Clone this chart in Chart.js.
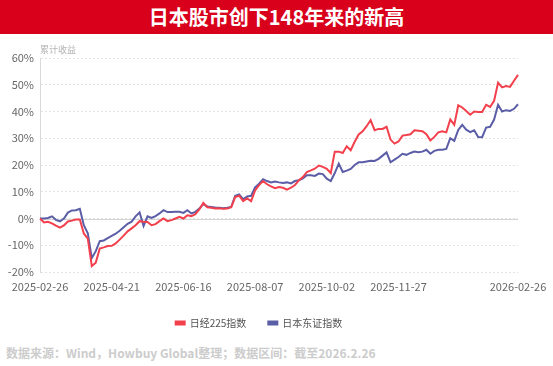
<!DOCTYPE html>
<html>
<head>
<meta charset="utf-8">
<script src="https://cdn.jsdelivr.net/npm/chart.js@4.4.1/dist/chart.umd.min.js"></script>
<style>
  body { margin: 0; width: 553px; height: 366px; background: #fff; position: relative; overflow: hidden; font-family: "Noto Sans CJK SC", "Noto Sans", sans-serif; }
  .title { position: absolute; left: 0; top: 0; width: 553px; height: 34px; background: #d9001b; color: #fff; font-size: 20px; font-weight: bold; line-height: 34px; text-align: center; }
  .wrap { position: absolute; left: 0; top: 36px; width: 553px; height: 302px; }
  .foot { position: absolute; left: 6px; top: 344px; font-size: 12px; font-weight: bold; color: #cccccc; white-space: nowrap; }
</style>
</head>
<body>
<div class="title">日本股市创下148年来的新高</div>
<div class="wrap"><canvas id="c"></canvas></div>
<div class="foot">数据来源：Wind，Howbuy Global整理；数据区间：截至2026.2.26</div>
<script>
// cumulative return (%), one value every ~2 trading days
const nikkei = [
  0, -1.5, -1.2, -1.8, -2.7, -3.4, -2.6, -1.1, -0.8, -0.4,
  -0.4, -5.6, -7.5, -17.8, -16.5, -11.2, -10.8, -10.3, -10.2, -9.3,
  -7.9, -6.4, -4.8, -3.7, -2.5, -1.0, -1.2, -1.3, -2.5, -2.1,
  -1.0, 0, -1.0, -0.6, 0, 0.6, 0, 1.2, 0.9, 1.6,
  3.4, 5.8, 4.2, 4.0, 3.7, 3.8, 3.6, 3.7, 4.2, 8.0,
  8.5, 6.5, 7.5, 6.5, 10.5, 12.5, 14.0, 12.8, 12.0, 11.3,
  11.8, 11.5, 10.8, 11.5, 12.5, 14.3, 15.5, 17.4, 18.0, 18.6,
  19.8, 19.3, 18.6, 17.0, 25.0, 25.0, 24.5, 27.0, 25.5, 28.7,
  31.4, 32.6, 34.5, 36.8, 33.0, 33.5, 33.5, 34.3, 29.5, 28.0,
  28.8, 31.0, 31.2, 31.5, 33.0, 32.8, 32.6, 31.5, 29.2, 30.5,
  32.2, 32.6, 32.2, 37.0, 35.0, 42.3, 41.5, 40.2, 38.8, 40.0,
  39.8, 39.8, 42.5, 41.7, 44.0, 50.8, 49.0, 49.5, 49.2, 51.5,
  53.7
];
const topix = [
  0, 0, 0.2, 0.8, -0.5, -1.1, 0, 2.2, 3.0, 3.1,
  3.6, -2.5, -5.5, -14.8, -12.2, -8.5, -8.2, -7.3, -6.5, -5.7,
  -4.6, -3.3, -2.0, -1.2, 0.8, 2.3, -2.8, 0.8, 0.2, 0.9,
  1.9, 3.1, 2.4, 2.4, 2.5, 2.5, 2.1, 3.1, 1.9, 2.5,
  3.7, 5.4, 4.5, 4.3, 4.1, 4.0, 3.8, 4.0, 4.3, 8.5,
  9.0, 7.2, 8.2, 8.5, 11.6, 13.0, 14.7, 14.0, 13.5, 13.8,
  13.5, 13.3, 13.5, 13.1, 14.0, 14.3, 15.0, 16.2, 16.2, 15.9,
  16.8, 16.6, 14.9, 14.0, 17.0, 20.5, 17.4, 17.9, 18.5, 20.0,
  21.0, 21.0, 21.3, 21.6, 21.5, 22.3, 23.5, 24.7, 21.0, 22.0,
  23.0, 24.2, 23.8, 24.5, 25.0, 24.8, 25.0, 25.7, 24.2, 25.3,
  25.7, 25.7, 26.0, 30.0, 29.0, 33.1, 35.0, 33.2, 32.3, 33.0,
  30.5, 30.4, 34.0, 34.3, 37.0, 42.5, 40.0, 40.5, 40.2, 41.0,
  42.7
];
const tickDates = ['2025-02-26', '2025-04-21', '2025-06-16', '2025-08-07', '2025-10-02', '2025-11-27', '2026-02-26'];
const tickAt = [0, 18, 36, 54, 72, 90, 120];
const seriesNames = ['日经225指数', '日本东证指数'];

const labels = nikkei.map((_, i) => i);

// solid zero line + small y-axis caption
const extras = {
  id: 'extras',
  beforeDatasetsDraw(chart) {
    const { ctx, chartArea, scales } = chart;
    const y0 = Math.round(scales.y.getPixelForValue(0)) + 0.5;
    ctx.save();
    ctx.strokeStyle = '#d4d4d4';
    ctx.lineWidth = 1;
    ctx.beginPath();
    ctx.moveTo(chartArea.left, y0);
    ctx.lineTo(chartArea.right, y0);
    ctx.stroke();
    ctx.restore();
  },
  afterDraw(chart) {
    const { ctx, chartArea } = chart;
    ctx.save();
    ctx.fillStyle = '#b3b3b3';
    ctx.font = '9px "Noto Sans CJK SC"';
    ctx.textBaseline = 'bottom';
    ctx.fillText('累计收益', chartArea.left, chartArea.top - 4);
    ctx.restore();
  }
};

new Chart(document.getElementById('c'), {
  type: 'line',
  data: {
    labels: labels,
    datasets: [
      { label: seriesNames[0], data: nikkei, borderColor: '#f2404c', backgroundColor: '#f2404c', borderWidth: 2, pointRadius: 0, tension: 0 },
      { label: seriesNames[1], data: topix, borderColor: '#5b5ea6', backgroundColor: '#5b5ea6', borderWidth: 2, pointRadius: 0, tension: 0 }
    ]
  },
  options: {
    responsive: true,
    maintainAspectRatio: false,
    animation: false,
    layout: { padding: { top: 22, right: 35, left: 0, bottom: 0 } },
    plugins: {
      legend: {
        position: 'bottom',
        labels: { boxWidth: 9, boxHeight: 3, padding: 22, color: '#555', font: { size: 10, family: 'Noto Sans CJK SC' } }
      },
      tooltip: { enabled: false }
    },
    scales: {
      x: {
        grid: { display: false },
        border: { display: false },
        afterFit(s) { s.height = 24; },
        ticks: {
          autoSkip: false,
          maxRotation: 0,
          color: '#666',
          font: { size: 11, family: 'Noto Sans CJK SC' },
          padding: 0,
          callback(v, i) {
            const k = tickAt.indexOf(i);
            return k >= 0 ? tickDates[k] : '';
          }
        }
      },
      y: {
        min: -20,
        max: 60,
        afterFit(s) { s.width = 40; },
        grid: { color: '#e3e3e3', drawTicks: false },
        border: { display: true, color: '#d9d9d9', dash: [2, 2] },
        ticks: {
          stepSize: 10,
          padding: 6,
          color: '#666',
          font: { size: 11, family: 'Noto Sans CJK SC' },
          callback: v => v + '%'
        }
      }
    }
  },
  plugins: [extras]
});
</script>
</body>
</html>
